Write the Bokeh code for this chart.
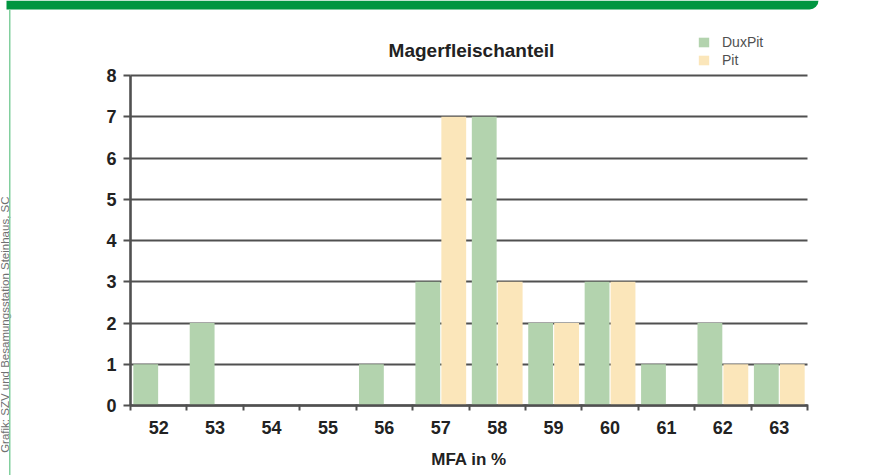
from math import pi
from bokeh.plotting import figure
from bokeh.models import (Range1d, FixedTicker, Legend, LegendItem, Label,
                          BoxAnnotation, ColumnDataSource)
from bokeh.transform import dodge
from bokeh.embed import file_html
from bokeh.resources import INLINE

# ---- data ----
categories = [52, 53, 54, 55, 56, 57, 58, 59, 60, 61, 62, 63]
duxpit = [1, 2, 0, 0, 1, 3, 7, 2, 3, 1, 2, 1]
pit = [0, 0, 0, 0, 0, 7, 3, 2, 3, 0, 1, 1]
y_ticks = [0, 1, 2, 3, 4, 5, 6, 7, 8]
series_names = ["DuxPit", "Pit"]
title_text = "Magerfleischanteil"
x_label = "MFA in %"
caption = "Grafik: SZV und Besamungsstation Steinhaus, SC"

GREEN = "#b3d3ae"
YELLOW = "#fbe6ba"
GRID = "#505050"
FONT = "Liberation Sans"

# ---- layout (pixels) ----
W, H = 883, 475
PLOT_L, PLOT_R, PLOT_T, PLOT_B = 130, 807, 75, 405   # plotting box on canvas

x_lo, x_hi = categories[0] - 0.5, categories[-1] + 0.5
y_lo, y_hi = y_ticks[0], y_ticks[-1]
ppx = (PLOT_R - PLOT_L) / (x_hi - x_lo)
ppy = (PLOT_B - PLOT_T) / (y_hi - y_lo)
x_range = Range1d(x_lo - PLOT_L / ppx, x_hi + (W - PLOT_R) / ppx)
y_range = Range1d(y_lo - (H - PLOT_B) / ppy, y_hi + PLOT_T / ppy)

src = ColumnDataSource(dict(x=categories, dux=duxpit, pit=pit))

p = figure(width=W, height=H, output_backend="svg", toolbar_location=None,
           x_range=x_range, y_range=y_range, title_location=None,
           min_border=0, min_border_left=0, min_border_right=0,
           min_border_top=0, min_border_bottom=0)
p.outline_line_color = None
p.background_fill_color = "#ffffff"
p.border_fill_color = "#ffffff"

r1 = p.vbar(x=dodge("x", -0.23, range=p.x_range), top="dux", width=0.44,
            source=src, fill_color=GREEN, line_color=None)
r2 = p.vbar(x=dodge("x", 0.23, range=p.x_range), top="pit", width=0.44,
            source=src, fill_color=YELLOW, line_color=None)

# grids
p.xgrid.grid_line_color = None
p.ygrid.ticker = FixedTicker(ticks=y_ticks)
p.ygrid.grid_line_color = GRID
p.ygrid.grid_line_width = 1.9
p.ygrid.cross_bounds = (x_lo, x_hi)
p.ygrid.level = "underlay"

# x axis
xa = p.xaxis[0]
xa.fixed_location = y_lo
xa.bounds = (x_lo, x_hi)
xa.ticker = FixedTicker(ticks=categories,
                        minor_ticks=[c - 0.5 for c in categories] + [x_hi])
xa.major_tick_out = 0
xa.major_tick_in = 0
xa.minor_tick_out = 5
xa.minor_tick_in = 1
xa.minor_tick_line_color = GRID
xa.minor_tick_line_width = 2
xa.axis_line_color = GRID
xa.axis_line_width = 2.4
xa.major_label_text_font = FONT
xa.major_label_text_font_style = "bold"
xa.major_label_text_font_size = "18px"
xa.major_label_text_color = "#222222"
xa.major_label_standoff = 10
xa.axis_label = x_label
xa.axis_label_text_font = FONT
xa.axis_label_text_font_style = "bold"
xa.axis_label_text_font_size = "17px"
xa.axis_label_text_color = "#222222"
xa.axis_label_standoff = 13

# y axis
ya = p.yaxis[0]
ya.fixed_location = x_lo
ya.bounds = (y_lo, y_hi)
ya.ticker = FixedTicker(ticks=y_ticks)
ya.minor_tick_line_color = None
ya.major_tick_out = 7
ya.major_tick_in = 0
ya.major_tick_line_color = GRID
ya.major_tick_line_width = 2
ya.axis_line_color = GRID
ya.axis_line_width = 2.6
ya.major_label_text_font = FONT
ya.major_label_text_font_style = "bold"
ya.major_label_text_font_size = "18px"
ya.major_label_text_color = "#222222"
ya.major_label_standoff = 7

# title
p.add_layout(Label(x=471, y=50, x_units="canvas", y_units="canvas",
                   text=title_text, text_align="center", text_baseline="middle",
                   text_font=FONT, text_font_style="bold",
                   text_font_size="19px", text_color="#222222"))

# legend
legend = Legend(items=[LegendItem(label=series_names[0], renderers=[r1]),
                       LegendItem(label=series_names[1], renderers=[r2])],
                location=(697, H - 69), orientation="vertical",
                padding=0, margin=0, spacing=0,
                glyph_width=13, glyph_height=12, label_height=18,
                label_standoff=12,
                label_text_font=FONT, label_text_font_size="14px",
                label_text_color="#505050",
                border_line_color=None, background_fill_alpha=0)
p.add_layout(legend, "center")

# decorations: top banner and left rule, rotated source caption
p.add_layout(BoxAnnotation(left=6, right=818, top=0, bottom=9,
                           left_units="canvas", right_units="canvas",
                           top_units="canvas", bottom_units="canvas",
                           fill_color="#009640", fill_alpha=1, line_color=None,
                           border_radius=(0, 0, 9, 0), level="overlay"))
p.add_layout(BoxAnnotation(left=8.5, right=10, top=9, bottom=H,
                           left_units="canvas", right_units="canvas",
                           top_units="canvas", bottom_units="canvas",
                           fill_color="#82cf9e", fill_alpha=1, line_color=None,
                           level="overlay"))
p.add_layout(Label(x=-2, y=196, x_units="canvas", y_units="canvas",
                   text=caption, angle=pi / 2, text_align="right",
                   text_baseline="top", text_font=FONT,
                   text_font_size="11.5px", text_color="#707070"))

open("out.html", "w").write(file_html(p, INLINE))
